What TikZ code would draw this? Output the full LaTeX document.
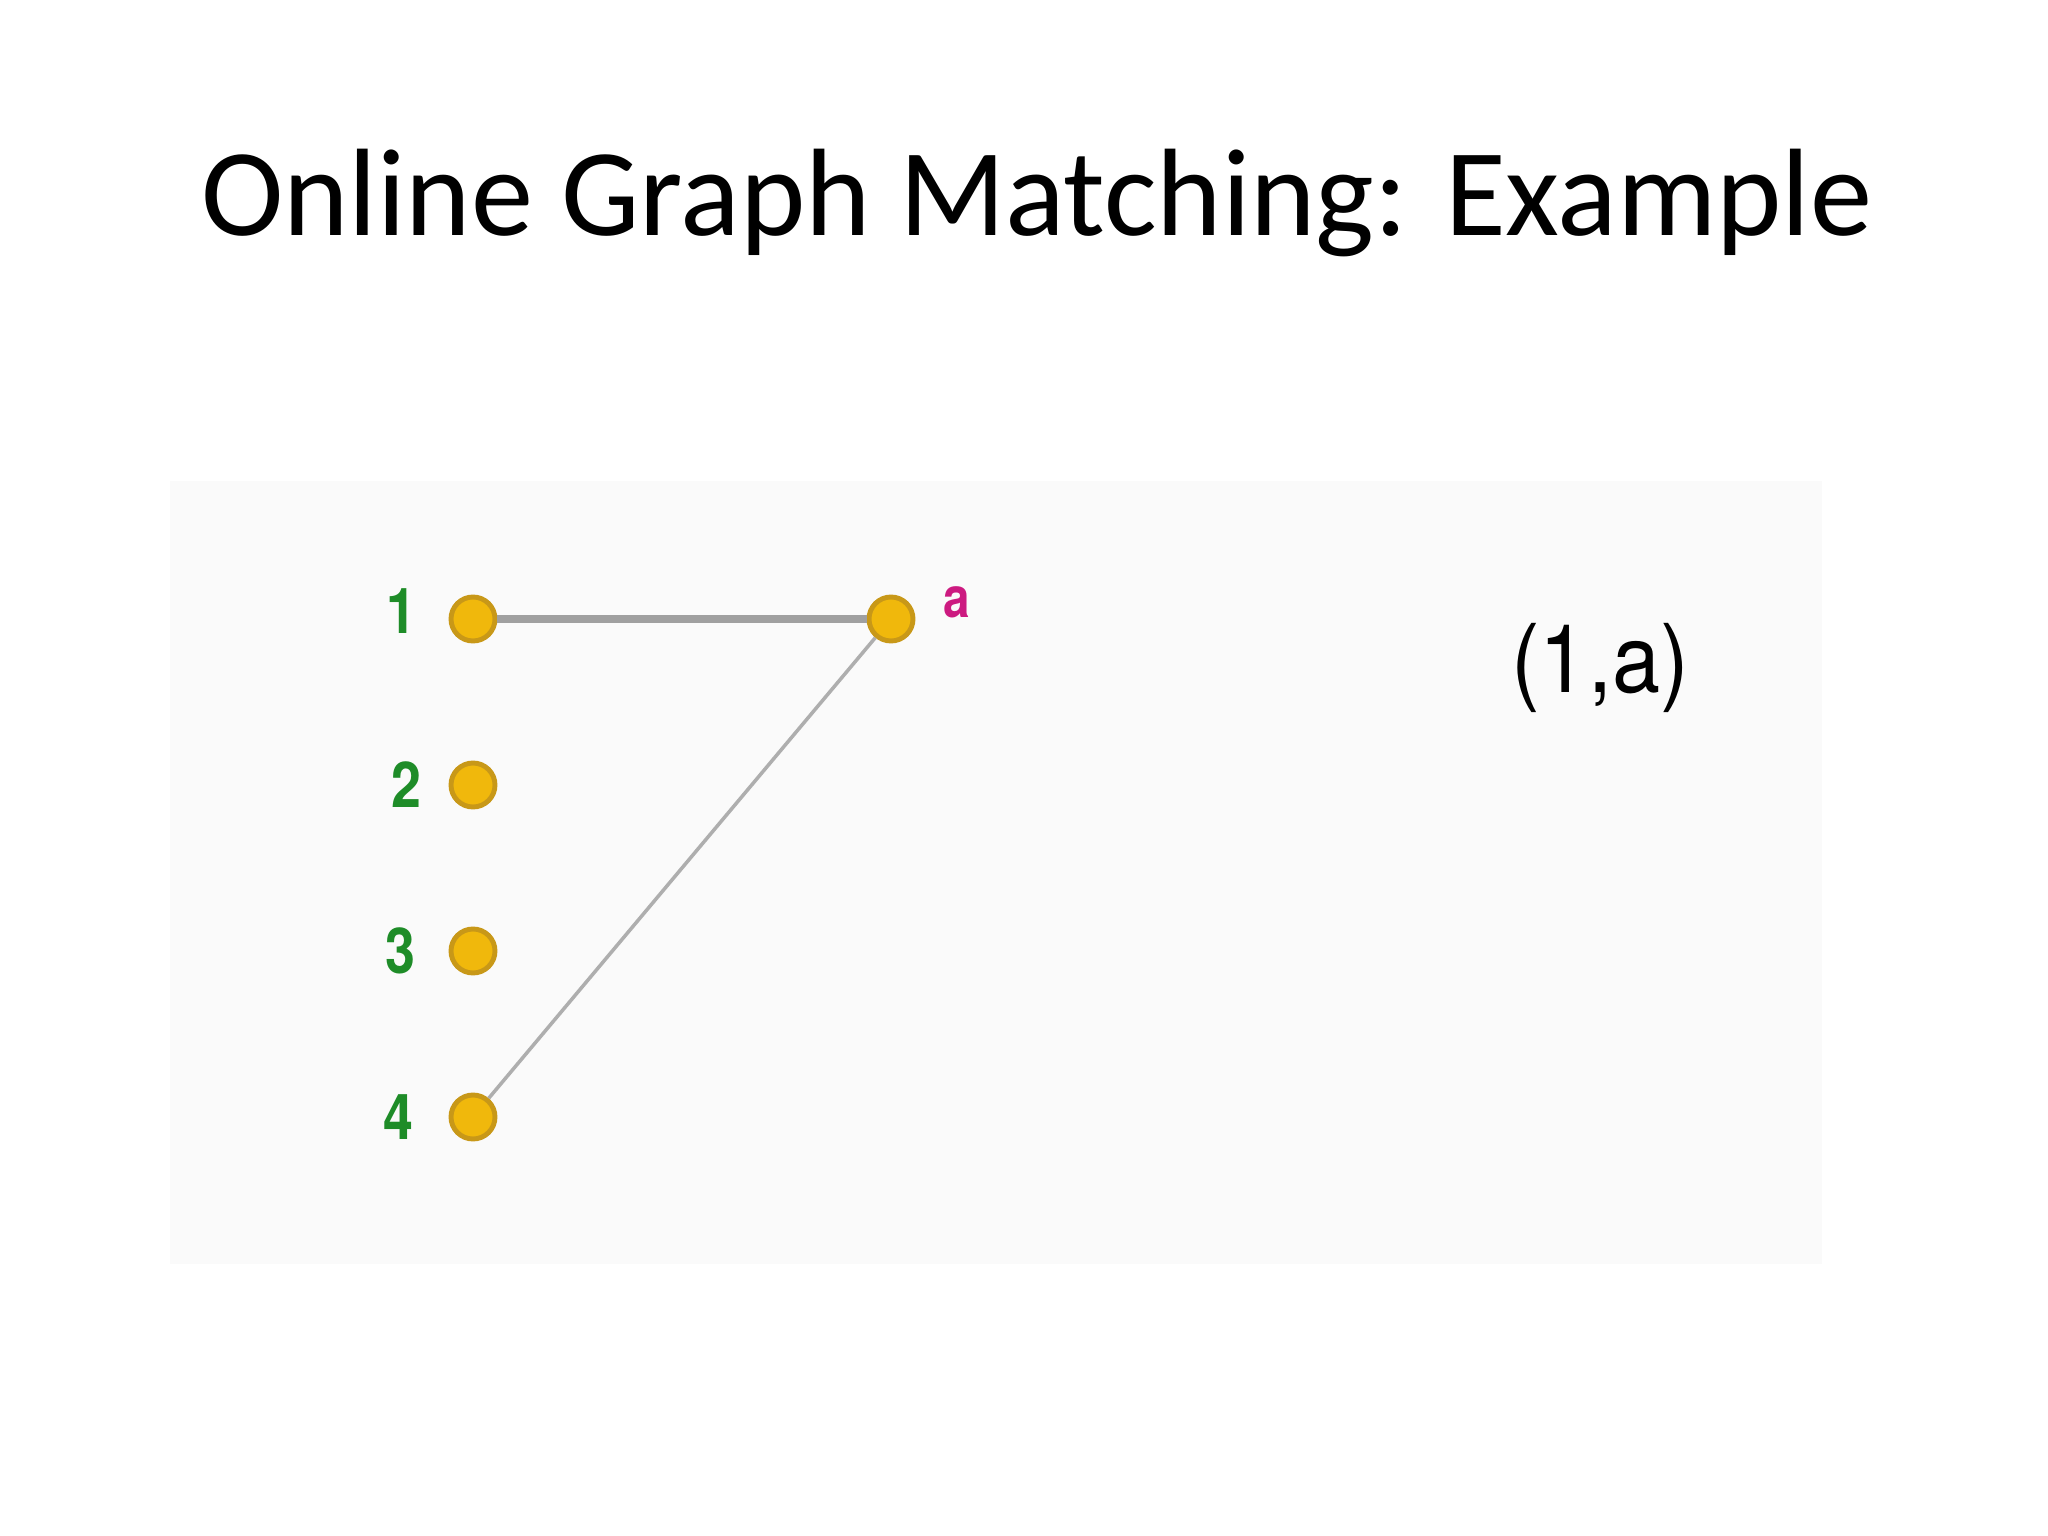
\documentclass[tikz,border=0pt]{standalone}
\usepackage{fontspec}
\setmainfont{Carlito}
\newfontfamily\helvf{TeX Gyre Heros}
\definecolor{panelbg}{HTML}{FAFAFA}
\definecolor{nodefill}{HTML}{F0B80C}
\definecolor{nodeborder}{HTML}{C89818}
\definecolor{labgreen}{HTML}{1E8C28}
\definecolor{labmag}{HTML}{CC1A80}
\definecolor{edgegray}{HTML}{A0A0A0}
\tikzset{
  vert/.style={circle, fill=nodefill, draw=nodeborder, line width=1.4pt, minimum size=0.44cm, inner sep=0pt},
  numlab/.style={text=labgreen, font=\helvf\bfseries\fontsize{18}{18}\selectfont, inner sep=0pt},
  alab/.style={text=labmag, font=\helvf\bfseries\fontsize{16}{16}\selectfont, inner sep=0pt},
  edge/.style={draw=edgegray, line width=2pt},
  thinedge/.style={draw=edgegray!85, line width=1pt}
}
\begin{document}
\begin{tikzpicture}
\useasboundingbox (0,0) rectangle (20.48,-15.36);
\fill[white] (0,0) rectangle (20.48,-15.36);
\fill[panelbg] (1.70,-4.81) rectangle (18.22,-12.64);
\node[font=\fontsize{35.4}{35.4}\selectfont, inner sep=0pt] (title) at (10.37,-2.03) {Online Graph Matching: Example};
\node[vert] (v1) at (4.73,-6.19) {};
\node[vert] (v2) at (4.73,-7.85) {};
\node[vert] (v3) at (4.73,-9.51) {};
\node[vert] (v4) at (4.73,-11.17) {};
\node[vert] (va) at (8.91,-6.19) {};
\node[numlab] (l1) at (4.01,-6.11) {\scalebox{0.85}[1]{1}};
\node[numlab] (l2) at (4.06,-7.85) {\scalebox{0.85}[1]{2}};
\node[numlab] (l3) at (4.00,-9.51) {\scalebox{0.85}[1]{3}};
\node[numlab] (l4) at (3.98,-11.17) {\scalebox{0.85}[1]{4}};
\node[alab] (la) at (9.57,-6.02) {\scalebox{0.85}[1]{a}};
\draw[edge] (v1) -- (va);
\draw[thinedge] (va) -- (v4);
\node[font=\helvf\fontsize{27}{27}\selectfont, inner sep=0pt] (pair) at (16.00,-6.68) {\scalebox{0.91}[1]{(1,a)}};
\end{tikzpicture}
\end{document}
